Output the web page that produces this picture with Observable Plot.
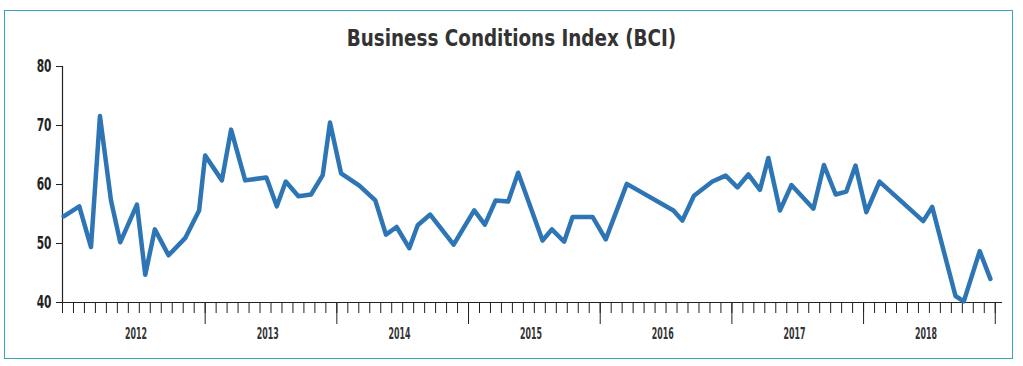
<!DOCTYPE html>
<html>
<head>
<meta charset="utf-8">
<script src="https://cdn.jsdelivr.net/npm/d3@7"></script>
<script src="https://cdn.jsdelivr.net/npm/@observablehq/plot@0.6"></script>
<style>
  html, body { margin: 0; padding: 0; background: #fff; }
  body { width: 1023px; height: 366px; position: relative; overflow: hidden; }
  #frame { position: absolute; left: 4px; top: 10px; width: 1009px; height: 349px; box-sizing: border-box; border: 1.5px solid #3ba3b6; }
  #title { position: absolute; left: 0; top: 27px; width: 1023px; text-align: center;
           font-family: "DejaVu Sans Condensed", "DejaVu Sans", sans-serif;
           font-weight: bold; font-size: 23px; color: #333; line-height: 1;
           transform: scaleX(0.887); transform-origin: 511.5px 50%; }
  #chart { position: absolute; left: 0; top: 0; }
</style>
</head>
<body>
<div id="frame"></div>
<div id="title">Business Conditions Index (BCI)</div>
<div id="chart"></div>
<script>
// Survey dates as decimal years
const dates = [
  2011.926, 2012.044, 2012.133, 2012.201, 2012.285, 2012.355, 2012.482, 2012.545, 2012.618, 2012.722,
  2012.848, 2012.954, 2013.000, 2013.127, 2013.197, 2013.304, 2013.465, 2013.544, 2013.612, 2013.708,
  2013.804, 2013.893, 2013.948, 2014.032, 2014.171, 2014.292, 2014.373, 2014.454, 2014.550, 2014.614,
  2014.709, 2014.887, 2015.043, 2015.124, 2015.206, 2015.301, 2015.377, 2015.562, 2015.633, 2015.726,
  2015.790, 2015.942, 2016.042, 2016.202, 2016.556, 2016.624, 2016.712, 2016.852, 2016.953, 2017.042,
  2017.125, 2017.213, 2017.277, 2017.365, 2017.452, 2017.619, 2017.699, 2017.788, 2017.869, 2017.939,
  2018.021, 2018.121, 2018.453, 2018.521, 2018.698, 2018.761, 2018.882, 2018.963
];
// Business Conditions Index values
const bci = [
  54.6, 56.3, 49.4, 71.6, 57.3, 50.2, 56.6, 44.7, 52.4, 48.0,
  50.9, 55.6, 64.9, 60.7, 69.3, 60.7, 61.2, 56.3, 60.5, 58.0,
  58.3, 61.6, 70.5, 61.9, 59.8, 57.3, 51.5, 52.8, 49.2, 53.1,
  54.9, 49.8, 55.6, 53.2, 57.3, 57.1, 62.0, 50.5, 52.4, 50.3,
  54.5, 54.5, 50.7, 60.1, 55.6, 53.9, 58.1, 60.5, 61.5, 59.5,
  61.7, 59.1, 64.5, 55.6, 59.9, 55.9, 63.3, 58.3, 58.8, 63.2,
  55.3, 60.5, 53.8, 56.2, 41.1, 40.2, 48.7, 44.0
];
const yTicks = [40, 50, 60, 70, 80];
const years = [2012, 2013, 2014, 2015, 2016, 2017, 2018];
const axisStart = 2011 + 11 / 12;   // December 2011
const axisEnd = 2019.055;

const data = dates.map((t, i) => ({t, v: bci[i]}));
const monthTicks = d3.range(0, 86).map(k => axisStart + k / 12);
const yearTicks = [...years.slice(1), 2019];
const yearMids = years.map(y => y + 0.475);

const font = '"DejaVu Sans Condensed", "DejaVu Sans", sans-serif';
const ink = "#222";

const chart = Plot.plot({
  width: 1023,
  height: 366,
  marginLeft: 62,
  marginRight: 21,
  marginTop: 66,
  marginBottom: 64,
  style: {fontFamily: font, fontWeight: "bold", fontSize: "15px", color: ink, background: "transparent"},
  x: {type: "linear", domain: [axisStart, axisEnd]},
  y: {domain: [40, 80]},
  marks: [
    Plot.axisY(yTicks, {anchor: "left", tickSize: 6, tickPadding: 5, fontSize: 17, stroke: ink, fill: ink, label: null}),
    Plot.axisX(monthTicks, {anchor: "bottom", tickSize: 11, tickFormat: () => "", stroke: ink, label: null}),
    Plot.axisX(yearTicks, {anchor: "bottom", tickSize: 22, tickFormat: () => "", stroke: ink, label: null}),
    Plot.axisX(yearMids, {anchor: "bottom", tickSize: 0, tickPadding: 26, fontSize: 15, fill: "#333", tickFormat: d => String(Math.floor(d)), label: null}),
    Plot.ruleX([axisStart], {stroke: ink, strokeWidth: 1.2}),
    Plot.ruleY([40], {stroke: ink, strokeWidth: 1.2}),
    Plot.line(data, {x: "t", y: "v", stroke: "#2e75b6", strokeWidth: 4.5, strokeLinejoin: "round", strokeLinecap: "round"})
  ]
});
document.getElementById("chart").appendChild(chart);

// Condense the tick labels to match the narrow lettering of the original
d3.select(chart).selectAll('g[aria-label="y-axis tick label"] text')
  .attr("lengthAdjust", "spacingAndGlyphs")
  .attr("textLength", function() { return this.textContent.length * 7.4; });
d3.select(chart).selectAll('g[aria-label="x-axis tick label"] text')
  .filter(function() { return this.textContent.length > 0; })
  .attr("lengthAdjust", "spacingAndGlyphs")
  .attr("textLength", function() { return this.textContent.length * 5.5; });
</script>
</body>
</html>
